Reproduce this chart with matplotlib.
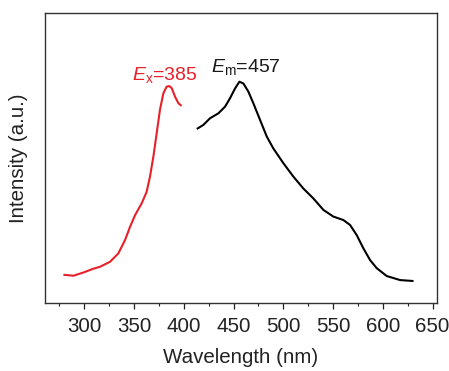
import matplotlib
matplotlib.use("Agg")
import matplotlib.pyplot as plt
from matplotlib.ticker import MultipleLocator

plt.rcParams['font.family'] = ['Liberation Sans', 'DejaVu Sans']
plt.rcParams['mathtext.fontset'] = 'custom'
plt.rcParams['mathtext.rm'] = 'Liberation Sans'
plt.rcParams['mathtext.it'] = 'Liberation Sans:italic'

# Excitation spectrum (red)
ex_wl = [280, 289, 299, 309, 315.8, 325.8, 334.2, 340.9, 346, 351, 357.7, 362.7,
         366, 369.4, 372.7, 376, 379.4, 382.7, 385.4, 387.8, 391.2, 394.5, 396.9]
ex_int = [0.097, 0.094, 0.105, 0.118, 0.125, 0.142, 0.171, 0.217, 0.263, 0.303,
          0.344, 0.384, 0.436, 0.505, 0.585, 0.666, 0.723, 0.746, 0.748, 0.741,
          0.711, 0.689, 0.682]

# Emission spectrum (black)
em_wl = [413.9, 419.6, 426.3, 434.7, 441.4, 446.4, 451.5, 455.8, 459.8, 464.8,
         469.8, 476.6, 483.3, 489.9, 500, 510, 520, 530, 540.2, 550.2, 560.3,
         567, 573.7, 580.3, 587.1, 593.8, 603.8, 617.3, 629.7]
em_int = [0.602, 0.614, 0.637, 0.654, 0.677, 0.706, 0.740, 0.763, 0.757, 0.729,
          0.689, 0.631, 0.574, 0.533, 0.482, 0.436, 0.395, 0.361, 0.321, 0.298,
          0.286, 0.269, 0.234, 0.189, 0.148, 0.120, 0.093, 0.079, 0.076]

fig = plt.figure(figsize=(4.49, 3.71), dpi=100)
ax = fig.add_axes([0.1002, 0.1833, 0.873, 0.7817])

ax.plot(ex_wl, ex_int, color='#e8202a', lw=1.5)
ax.plot(em_wl, em_int, color='black', lw=1.5)

ax.text(348, 0.769, r'$E_{\rm x}$=385', color='#e8202a', fontsize=14)
ax.text(427.5, 0.797, r'$E_{\rm m}$=457', color='#1a1a1a', fontsize=14)

ax.set_xlim(260.5, 654.3)
ax.set_ylim(0, 1)
ax.xaxis.set_major_locator(MultipleLocator(50))
ax.xaxis.set_minor_locator(MultipleLocator(25))
ax.tick_params(axis='x', which='major', direction='out', length=4, width=0.9,
               labelsize=14.8, pad=6, colors='#222222')
ax.tick_params(axis='x', which='minor', direction='out', length=2.5, width=0.8,
               colors='#222222')
ax.set_yticks([])
for s in ax.spines.values():
    s.set_linewidth(1.0)
    s.set_color('#333333')

ax.set_xlabel('Wavelength (nm)', fontsize=14.8, color='#222222', labelpad=9)
ax.set_ylabel('Intensity (a.u.)', fontsize=14.8, color='#222222', labelpad=12)

fig.savefig('out.png', dpi=100)
